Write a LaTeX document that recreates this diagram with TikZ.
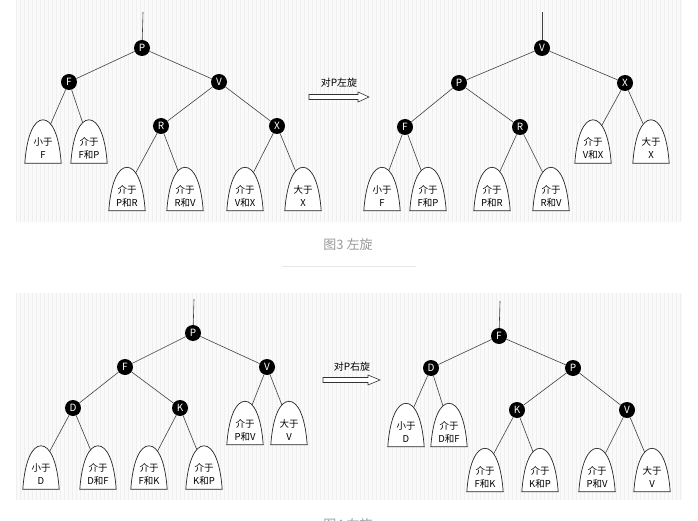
\documentclass[tikz,border=0pt]{standalone}
\usepackage{fontspec}
\setmainfont{Noto Sans CJK SC}
\usetikzlibrary{calc}
\pgfdeclarelayer{bg}
\pgfdeclarelayer{edges}
\pgfdeclarelayer{leaves}
\pgfsetlayers{bg,edges,leaves,main}
\definecolor{gridbg}{HTML}{FAFAFA}
\definecolor{gridminor}{HTML}{EFEFEF}
\definecolor{edgecol}{HTML}{404040}
\definecolor{capcol}{HTML}{9A9A9A}
\definecolor{rulecol}{HTML}{E6E6E6}
\tikzset{
  rb/.style={circle,fill=black,text=white,minimum size=16pt,inner sep=0pt,
    font=\fontsize{10}{10}\selectfont},
  edge/.style={draw=edgecol,line width=0.6pt},
  leafbox/.style={rectangle,draw=none,minimum width=36pt,minimum height=43pt,inner sep=0pt},
  leaftext/.style={align=center,inner sep=0pt,yshift=-7pt,
    font=\fontsize{9.5}{13}\selectfont},
  leafline/.style={draw=black!85,fill=white,line width=0.7pt},
  blockarrow/.style={draw=black!80,fill=white,line width=0.6pt},
  arrlabel/.style={font=\fontsize{10}{10}\selectfont},
  caption/.style={text=capcol,font=\fontsize{13}{13}\selectfont},
}
\newcommand\leafnode[4]{%
  \node[leafbox,label={[leaftext]center:{#4}}] (#1) at (#2,#3) {};
  \begin{pgfonlayer}{leaves}
    \filldraw[leafline] (#1.south west)
      .. controls ($(#1.south west)+(2,-28)$) and ($(#1.north)+(-9,0)$) .. (#1.north)
      .. controls ($(#1.north)+(9,0)$) and ($(#1.south east)+(-2,-28)$) .. (#1.south east)
      -- cycle;
  \end{pgfonlayer}}
\begin{document}
\begin{tikzpicture}[x=1pt,y=-1pt]
\useasboundingbox (0,0) rectangle (698,521);
% backgrounds
\begin{pgfonlayer}{bg}
  \fill[white] (0,0) rectangle (698,521);
  \fill[gridbg] (16,0) rectangle (682,222);
  \draw[gridminor,line width=0.3pt,step=4] (16,0) grid (682,222);
  \fill[gridbg] (16,293) rectangle (682,500);
  \draw[gridminor,line width=0.3pt,step=4] (16,293) grid (682,500);
\end{pgfonlayer}

% ===== Top-left tree =====
\coordinate (aroot) at (143,12);
\node[rb] (aP) at (142,48) {P};
\node[rb] (aF) at (69,82) {F};
\node[rb] (aV) at (219,82) {V};
\node[rb] (aR) at (161,126) {R};
\node[rb] (aX) at (277,126) {X};
\leafnode{aL1}{43}{141.5}{小于\\F}
\leafnode{aL2}{89}{141.5}{介于\\F和P}
\leafnode{aL3}{127}{189}{介于\\P和R}
\leafnode{aL4}{185}{189}{介于\\R和V}
\leafnode{aL5}{245}{189}{介于\\V和X}
\leafnode{aL6}{303}{189}{大于\\X}
\begin{pgfonlayer}{edges}
  \draw[edge] (aroot) -- (aP);
  \draw[edge] (aP) -- (aF);
  \draw[edge] (aP) -- (aV);
  \draw[edge] (aV) -- (aR);
  \draw[edge] (aV) -- (aX);
  \draw[edge] (aF) -- (aL1.center);
  \draw[edge] (aF) -- (aL2.center);
  \draw[edge] (aR) -- (aL3.center);
  \draw[edge] (aR) -- (aL4.center);
  \draw[edge] (aX) -- (aL5.center);
  \draw[edge] (aX) -- (aL6.center);
\end{pgfonlayer}

% arrow top
\node[arrlabel] (alab) at (339,83) {对P左旋};
\draw[blockarrow] (309,94.5) -- (358,94.5) -- (358,92) -- (369,97) -- (358,102) -- (358,99.5) -- (309,99.5) -- cycle;

% ===== Top-right tree =====
\coordinate (broot) at (542,12);
\node[rb] (bV) at (542,48) {V};
\node[rb] (bP) at (459,83) {P};
\node[rb] (bX) at (625,83) {X};
\node[rb] (bF) at (405,127) {F};
\node[rb] (bR) at (520,127) {R};
\leafnode{bL1}{593}{141.5}{介于\\V和X}
\leafnode{bL2}{651}{141.5}{大于\\X}
\leafnode{bL3}{382}{189}{小于\\F}
\leafnode{bL4}{428}{189}{介于\\F和P}
\leafnode{bL5}{492}{189}{介于\\P和R}
\leafnode{bL6}{551}{189}{介于\\R和V}
\begin{pgfonlayer}{edges}
  \draw[edge] (broot) -- (bV);
  \draw[edge] (bV) -- (bP);
  \draw[edge] (bV) -- (bX);
  \draw[edge] (bP) -- (bF);
  \draw[edge] (bP) -- (bR);
  \draw[edge] (bX) -- (bL1.center);
  \draw[edge] (bX) -- (bL2.center);
  \draw[edge] (bF) -- (bL3.center);
  \draw[edge] (bF) -- (bL4.center);
  \draw[edge] (bR) -- (bL5.center);
  \draw[edge] (bR) -- (bL6.center);
\end{pgfonlayer}

% caption 1
\node[caption] (cap1) at (348,245) {图3 左旋};
\draw[rulecol,line width=0.8pt] (282,266) -- (416,266);

% ===== Bottom-left tree =====
\coordinate (croot) at (194,299);
\node[rb] (cP) at (193,333) {P};
\node[rb] (cF) at (125,367) {F};
\node[rb] (cV) at (267,367) {V};
\node[rb] (cD) at (73,408) {D};
\node[rb] (cK) at (180,408) {K};
\leafnode{cL1}{245}{423}{介于\\P和V}
\leafnode{cL2}{289}{423}{大于\\V}
\leafnode{cL3}{41}{467.5}{小于\\D}
\leafnode{cL4}{98}{467.5}{介于\\D和F}
\leafnode{cL5}{149}{467.5}{介于\\F和K}
\leafnode{cL6}{204}{467.5}{介于\\K和P}
\begin{pgfonlayer}{edges}
  \draw[edge] (croot) -- (cP);
  \draw[edge] (cP) -- (cF);
  \draw[edge] (cP) -- (cV);
  \draw[edge] (cF) -- (cD);
  \draw[edge] (cF) -- (cK);
  \draw[edge] (cV) -- (cL1.center);
  \draw[edge] (cV) -- (cL2.center);
  \draw[edge] (cD) -- (cL3.center);
  \draw[edge] (cD) -- (cL4.center);
  \draw[edge] (cK) -- (cL5.center);
  \draw[edge] (cK) -- (cL6.center);
\end{pgfonlayer}

% arrow bottom
\node[arrlabel] (clab) at (352,367) {对P右旋};
\draw[blockarrow] (323,377.5) -- (368,377.5) -- (368,375) -- (380,380) -- (368,385) -- (368,382.5) -- (323,382.5) -- cycle;

% ===== Bottom-right tree =====
\coordinate (droot) at (500,301);
\node[rb] (dF) at (499,336) {F};
\node[rb] (dD) at (431,368) {D};
\node[rb] (dP) at (573,368) {P};
\node[rb] (dK) at (517,410) {K};
\node[rb] (dV) at (627,410) {V};
\leafnode{dL1}{406}{425}{小于\\D}
\leafnode{dL2}{449}{425}{介于\\D和F}
\leafnode{dL3}{485}{470}{介于\\F和K}
\leafnode{dL4}{540}{470}{介于\\K和P}
\leafnode{dL5}{597}{470}{介于\\P和V}
\leafnode{dL6}{652}{470}{大于\\V}
\begin{pgfonlayer}{edges}
  \draw[edge] (droot) -- (dF);
  \draw[edge] (dF) -- (dD);
  \draw[edge] (dF) -- (dP);
  \draw[edge] (dP) -- (dK);
  \draw[edge] (dP) -- (dV);
  \draw[edge] (dD) -- (dL1.center);
  \draw[edge] (dD) -- (dL2.center);
  \draw[edge] (dK) -- (dL3.center);
  \draw[edge] (dK) -- (dL4.center);
  \draw[edge] (dV) -- (dL5.center);
  \draw[edge] (dV) -- (dL6.center);
\end{pgfonlayer}

% caption 2 (cut off at the bottom edge, as in the reference)
\node[caption] (cap2) at (348,525) {图4 右旋};
\end{tikzpicture}
\end{document}
